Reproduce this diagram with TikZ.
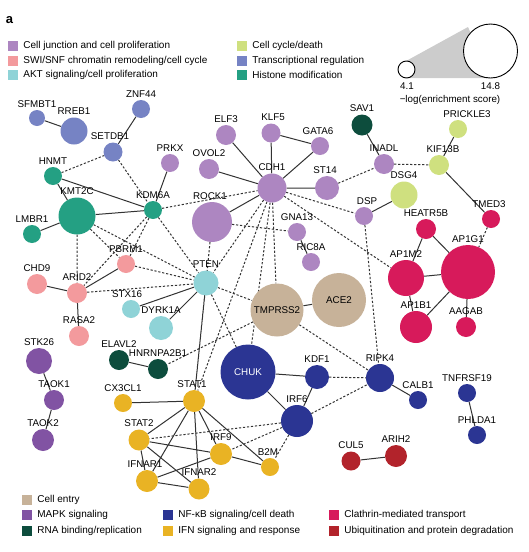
\documentclass[tikz,border=0pt]{standalone}
\usepackage{fontspec}
\setmainfont{Liberation Sans}
\usetikzlibrary{positioning, backgrounds}

\definecolor{cjunc}{HTML}{AD86C1}
\definecolor{swisnf}{HTML}{F39A9D}
\definecolor{akt}{HTML}{8FD3D7}
\definecolor{ccycle}{HTML}{CFE07F}
\definecolor{trans}{HTML}{7683C4}
\definecolor{histone}{HTML}{24A083}
\definecolor{entry}{HTML}{C7B299}
\definecolor{mapk}{HTML}{8153A3}
\definecolor{rnab}{HTML}{0D4D3D}
\definecolor{nfkb}{HTML}{2B3593}
\definecolor{ifn}{HTML}{E9B324}
\definecolor{clath}{HTML}{D71A5B}
\definecolor{ubiq}{HTML}{B2232B}
\definecolor{edge}{HTML}{333333}

\newcommand{\lbl}{\fontsize{9.8}{11}\selectfont}
\newcommand{\leg}{\fontsize{10}{12}\selectfont}

\tikzstyle{gene} = [circle, inner sep=0pt, draw=none, font=\lbl]
\tikzstyle{link} = [draw=edge, line width=1pt]
\tikzstyle{pred} = [draw=edge, line width=1pt, dash pattern=on 2.2pt off 1.8pt]
\tikzstyle{key} = [rectangle, minimum size=10pt, inner sep=0pt]
\tikzstyle{keytext} = [font=\leg, inner sep=0pt, anchor=west]

\begin{document}
\begin{tikzpicture}[x=1pt, y=-1pt, label distance=1.5pt,
    every label/.style={font=\lbl, inner sep=1pt}]
    \useasboundingbox (0,0) rectangle (528,552);

    \node at (9.5,20) [font=\fontsize{13}{14}\selectfont\bfseries] (panel) {a};

    % legend, top
    \node at (13,45.5) [key, fill=cjunc] (kcjunc) {};
    \node [keytext, right=5pt of kcjunc] {Cell junction and cell proliferation};
    \node at (13,60.5) [key, fill=swisnf] (kswisnf) {};
    \node [keytext, right=5pt of kswisnf] {SWI/SNF chromatin remodeling/cell cycle};
    \node at (13,75) [key, fill=akt] (kakt) {};
    \node [keytext, right=5pt of kakt] {AKT signaling/cell proliferation};
    \node at (242,45.5) [key, fill=ccycle] (kccycle) {};
    \node [keytext, right=5pt of kccycle] {Cell cycle/death};
    \node at (242,60.5) [key, fill=trans] (ktrans) {};
    \node [keytext, right=5pt of ktrans] {Transcriptional regulation};
    \node at (242,75) [key, fill=histone] (khistone) {};
    \node [keytext, right=5pt of khistone] {Histone modification};

    % size scale
    \fill[black!20] (407,60.5) -- (468,27) -- (490.5,78) -- (407,78) -- cycle;
    \node at (406.5,69.5) [circle, draw, fill=white, line width=0.9pt, minimum size=17, inner sep=0pt] (small) {};
    \node at (490.5,51) [circle, draw, fill=white, line width=0.9pt, minimum size=54, inner sep=0pt] (big) {};
    \node at (407,86) [font=\lbl] (lo) {4.1};
    \node at (490.5,86) [font=\lbl] (hi) {14.8};
    \node at (450,100) [font=\lbl] (scale) {−log(enrichment score)};

    % genes
    \node at (37,118) [gene, fill=trans, minimum size=16, label=above:SFMBT1] (sfmbt1) {};
    \node at (74,131) [gene, fill=trans, minimum size=27, label=above:RREB1] (rreb1) {};
    \node at (141,109) [gene, fill=trans, minimum size=18, label=above:ZNF44] (znf44) {};
    \node at (113,152) [gene, fill=trans, minimum size=19, label={[xshift=-3]above:SETDB1}] (setdb1) {};
    \node at (53,176) [gene, fill=histone, minimum size=18, label=above:HNMT] (hnmt) {};
    \node at (77,216) [gene, fill=histone, minimum size=37, label=above:KMT2C] (kmt2c) {};
    \node at (32,234) [gene, fill=histone, minimum size=18, label=above:LMBR1] (lmbr1) {};
    \node at (153,210) [gene, fill=histone, minimum size=18, label=above:KDM6A] (kdm6a) {};
    \node at (170,163) [gene, fill=cjunc, minimum size=18, label=above:PRKX] (prkx) {};
    \node at (226,135) [gene, fill=cjunc, minimum size=20, label=above:ELF3] (elf3) {};
    \node at (271,133) [gene, fill=cjunc, minimum size=19, label={[xshift=2]above:KLF5}] (klf5) {};
    \node at (320,146) [gene, fill=cjunc, minimum size=18, label={[xshift=-2]above:GATA6}] (gata6) {};
    \node at (209,169) [gene, fill=cjunc, minimum size=20, label=above:OVOL2] (ovol2) {};
    \node at (272,188) [gene, fill=cjunc, minimum size=29, label=above:CDH1] (cdh1) {};
    \node at (327,188) [gene, fill=cjunc, minimum size=24, label={[xshift=-2]above:ST14}] (st14) {};
    \node at (212,222) [gene, fill=cjunc, minimum size=40, label={[xshift=-2]above:ROCK1}] (rock1) {};
    \node at (297,232) [gene, fill=cjunc, minimum size=18, label=above:GNA13] (gna13) {};
    \node at (311,262) [gene, fill=cjunc, minimum size=18, label=above:RIC8A] (ric8a) {};
    \node at (364,216) [gene, fill=cjunc, minimum size=18, label={[xshift=3]above:DSP}] (dsp) {};
    \node at (384,164) [gene, fill=cjunc, minimum size=20, label=above:INADL] (inadl) {};
    \node at (362,125) [gene, fill=rnab, minimum size=21, label=above:SAV1] (sav1) {};
    \node at (458,129) [gene, fill=ccycle, minimum size=18, label={[xshift=9]above:PRICKLE3}] (prickle3) {};
    \node at (439,165) [gene, fill=ccycle, minimum size=20, label={[xshift=4]above:KIF13B}] (kif13b) {};
    \node at (404,195) [gene, fill=ccycle, minimum size=27, label=above:DSG4] (dsg4) {};
    \node at (491,219) [gene, fill=clath, minimum size=18, label={[xshift=-2]above:TMED3}] (tmed3) {};
    \node at (426,229) [gene, fill=clath, minimum size=20, label=above:HEATR5B] (heatr5b) {};
    \node at (468,272) [gene, fill=clath, minimum size=54, label=above:AP1G1] (ap1g1) {};
    \node at (406,278) [gene, fill=clath, minimum size=36, label=above:AP1M2] (ap1m2) {};
    \node at (416,327) [gene, fill=clath, minimum size=32, label=above:AP1B1] (ap1b1) {};
    \node at (466,327) [gene, fill=clath, minimum size=20, label=above:AAGAB] (aagab) {};
    \node at (277,310) [gene, fill=entry, minimum size=53] (tmprss2) {TMPRSS2};
    \node at (339,300) [gene, fill=entry, minimum size=54] (ace2) {ACE2};
    \node at (126,264) [gene, fill=swisnf, minimum size=18, label=above:PBRM1] (pbrm1) {};
    \node at (37,284) [gene, fill=swisnf, minimum size=20, label=above:CHD9] (chd9) {};
    \node at (77,293) [gene, fill=swisnf, minimum size=20, label=above:ARID2] (arid2) {};
    \node at (79,336) [gene, fill=swisnf, minimum size=20, label=above:RASA2] (rasa2) {};
    \node at (206,283) [gene, fill=akt, minimum size=25, label=above:PTEN] (pten) {};
    \node at (131,309) [gene, fill=akt, minimum size=18, label={[xshift=-4]above:STX16}] (stx16) {};
    \node at (161,328) [gene, fill=akt, minimum size=24, label=above:DYRK1A] (dyrk1a) {};
    \node at (39,361) [gene, fill=mapk, minimum size=26, label=above:STK26] (stk26) {};
    \node at (54,400) [gene, fill=mapk, minimum size=20, label=above:TAOK1] (taok1) {};
    \node at (43,440) [gene, fill=mapk, minimum size=22, label=above:TAOK2] (taok2) {};
    \node at (119,360) [gene, fill=rnab, minimum size=20, label=above:ELAVL2] (elavl2) {};
    \node at (158,369) [gene, fill=rnab, minimum size=20, label=above:HNRNPA2B1] (hnrnpa2b1) {};
    \node at (248,372) [gene, fill=nfkb, minimum size=55, text=white] (chuk) {CHUK};
    \node at (317,377) [gene, fill=nfkb, minimum size=24, label=above:KDF1] (kdf1) {};
    \node at (380,378) [gene, fill=nfkb, minimum size=28, label=above:RIPK4] (ripk4) {};
    \node at (297,421) [gene, fill=nfkb, minimum size=32, label=above:IRF6] (irf6) {};
    \node at (418,400) [gene, fill=nfkb, minimum size=18, label=above:CALB1] (calb1) {};
    \node at (467,393) [gene, fill=nfkb, minimum size=18, label=above:TNFRSF19] (tnfrsf19) {};
    \node at (477,435) [gene, fill=nfkb, minimum size=18, label=above:PHLDA1] (phlda1) {};
    \node at (351,461) [gene, fill=ubiq, minimum size=19, label=above:CUL5] (cul5) {};
    \node at (396,456) [gene, fill=ubiq, minimum size=22, label=above:ARIH2] (arih2) {};
    \node at (123,403) [gene, fill=ifn, minimum size=18, label=above:CX3CL1] (cx3cl1) {};
    \node at (194,401) [gene, fill=ifn, minimum size=22, label={[xshift=-2]above:STAT1}] (stat1) {};
    \node at (139,440) [gene, fill=ifn, minimum size=21, label=above:STAT2] (stat2) {};
    \node at (221,454) [gene, fill=ifn, minimum size=22, label=above:IRF9] (irf9) {};
    \node at (270,467) [gene, fill=ifn, minimum size=18, label={[xshift=-2]above:B2M}] (b2m) {};
    \node at (147,481) [gene, fill=ifn, minimum size=22, label={[xshift=-2]above:IFNAR1}] (ifnar1) {};
    \node at (199,489) [gene, fill=ifn, minimum size=21, label=above:IFNAR2] (ifnar2) {};

    % interactions
    \begin{scope}[on background layer]
        \draw[link] (sfmbt1) -- (rreb1) (znf44) -- (setdb1) (hnmt) -- (kmt2c) (hnmt) -- (kdm6a)
            (lmbr1) -- (kmt2c) (kmt2c) -- (kdm6a) (prkx) -- (kdm6a)
            (elf3) -- (cdh1) (klf5) -- (cdh1) (klf5) -- (gata6) (gata6) -- (cdh1) (ovol2) -- (cdh1)
            (rock1) -- (cdh1) (cdh1) -- (st14) (gna13) -- (ric8a) (sav1) -- (inadl)
            (prickle3) -- (kif13b) (kif13b) -- (tmed3) (dsg4) -- (dsp)
            (heatr5b) -- (ap1m2) (heatr5b) -- (ap1g1) (ap1m2) -- (ap1g1) (ap1m2) -- (ap1b1)
            (ap1b1) -- (ap1g1) (ap1g1) -- (aagab) (tmprss2) -- (ace2)
            (chd9) -- (arid2) (arid2) -- (pbrm1) (arid2) -- (rasa2) (stx16) -- (pten) (dyrk1a) -- (pten)
            (elavl2) -- (hnrnpa2b1) (stk26) -- (taok1) (taok1) -- (taok2)
            (chuk) -- (kdf1) (chuk) -- (irf6) (kdf1) -- (irf6) (ripk4) -- (calb1)
            (tnfrsf19) -- (phlda1) (cul5) -- (arih2)
            (cx3cl1) -- (stat1) (stat1) -- (stat2) (stat1) -- (ifnar1) (stat1) -- (ifnar2)
            (stat1) -- (irf9) (stat1) -- (b2m) (stat2) -- (irf9) (stat2) -- (ifnar1)
            (stat2) -- (ifnar2) (irf9) -- (ifnar1) (irf9) -- (b2m) (ifnar1) -- (ifnar2);
        \draw[pred] (hnmt) -- (setdb1) (setdb1) -- (kdm6a) (kdm6a) -- (cdh1) (kdm6a) -- (pten)
            (kdm6a) -- (pbrm1) (kdm6a) -- (arid2) (kmt2c) -- (arid2) (kmt2c) -- (pbrm1)
            (kmt2c) -- (pten) (pbrm1) -- (pten) (arid2) -- (pten)
            (rock1) -- (pten) (rock1) -- (gna13) (rock1) -- (stat1)
            (cdh1) -- (pten) (cdh1) -- (tmprss2) (cdh1) -- (stat1) (cdh1) -- (chuk)
            (cdh1) -- (dsp) (cdh1) -- (ap1m2) (st14) -- (inadl) (inadl) -- (kif13b)
            (dsp) -- (ripk4) (tmed3) -- (ap1g1)
            (pten) -- (tmprss2) (pten) -- (chuk) (pten) -- (stat1)
            (tmprss2) -- (hnrnpa2b1) (tmprss2) -- (ripk4)
            (kdf1) -- (ripk4) (irf6) -- (ripk4) (irf6) -- (b2m) (irf6) -- (stat2) (irf6) -- (irf9);
    \end{scope}

    % legend, bottom
    \node at (27,500) [key, fill=entry] (kentry) {};
    \node [keytext, right=5pt of kentry] {Cell entry};
    \node at (27,515) [key, fill=mapk] (kmapk) {};
    \node [keytext, right=5pt of kmapk] {MAPK signaling};
    \node at (27,530.5) [key, fill=rnab] (krnab) {};
    \node [keytext, right=5pt of krnab] {RNA binding/replication};
    \node at (168,515) [key, fill=nfkb] (knfkb) {};
    \node [keytext, right=5pt of knfkb] {NF-κB signaling/cell death};
    \node at (168,530.5) [key, fill=ifn] (kifn) {};
    \node [keytext, right=5pt of kifn] {IFN signaling and response};
    \node at (334,515) [key, fill=clath] (kclath) {};
    \node [keytext, right=5pt of kclath] {Clathrin-mediated transport};
    \node at (334,530.5) [key, fill=ubiq] (kubiq) {};
    \node [keytext, right=5pt of kubiq] {Ubiquitination and protein degradation};

\end{tikzpicture}
\end{document}
